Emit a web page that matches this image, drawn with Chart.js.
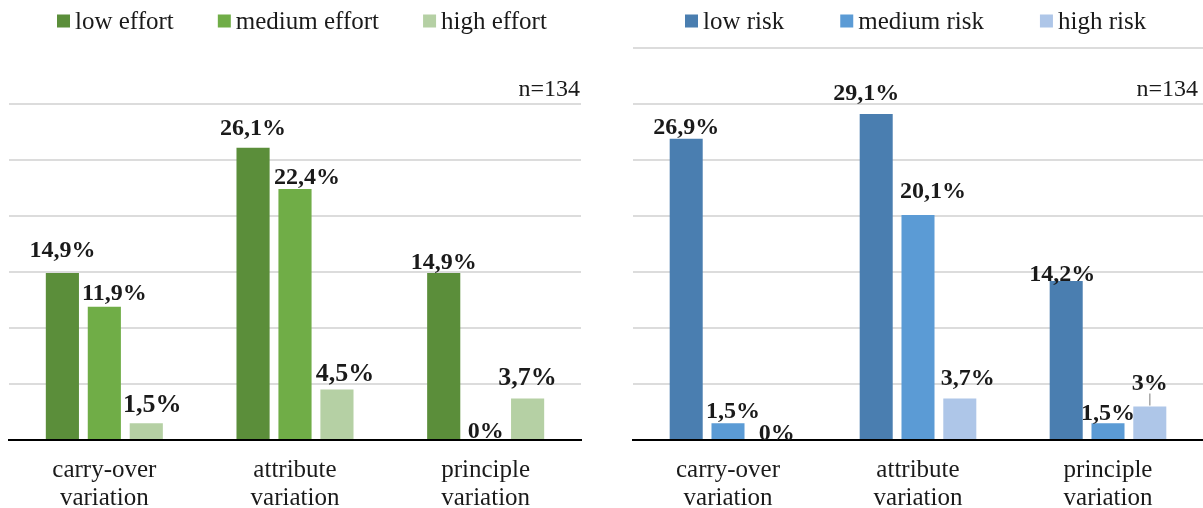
<!DOCTYPE html>
<html>
<head>
<meta charset="utf-8">
<script src="https://cdn.jsdelivr.net/npm/chart.js@4.4.1/dist/chart.umd.min.js"></script>
<style>
  html, body { margin: 0; padding: 0; background: #ffffff; }
  body { width: 1203px; height: 508px; position: relative; overflow: hidden; }
  .panel { position: absolute; top: 0; height: 508px; }
  #effortWrap { left: 0; width: 600px; }
  #riskWrap { left: 600px; width: 603px; }
</style>
</head>
<body>
<div class="panel" id="effortWrap"><canvas id="effortChart"></canvas></div>
<div class="panel" id="riskWrap"><canvas id="riskChart"></canvas></div>
<script>
// Variation types shown on both panels
const categories = [
  ['carry-over', 'variation'],
  ['attribute', 'variation'],
  ['principle', 'variation']
];

// Share of variations (%) by effort level
const effortLabels = ['low effort', 'medium effort', 'high effort'];
const effortLow = [14.9, 26.1, 14.9];
const effortMedium = [11.9, 22.4, 0];
const effortHigh = [1.5, 4.5, 3.7];

// Share of variations (%) by risk level
const riskLabels = ['low risk', 'medium risk', 'high risk'];
const riskLow = [26.9, 29.1, 14.2];
const riskMedium = [1.5, 20.1, 1.5];
const riskHigh = [0, 3.7, 3];

const sampleNote = 'n=134';

const SERIF = '"Liberation Serif", "Times New Roman", serif';
const INK = '#1a1a1a';

function formatPercent(v) {
  return (Number.isInteger(v) ? String(v) : v.toFixed(1).replace('.', ',')) + '%';
}

// Value labels above bars: [dx, gap above bar top, leader line]
const barValueLabels = {
  id: 'barValueLabels',
  afterDatasetsDraw(chart, args, opts) {
    const ctx = chart.ctx;
    chart.data.datasets.forEach((ds, di) => {
      const meta = chart.getDatasetMeta(di);
      const place = opts.placement[di];
      meta.data.forEach((bar, i) => {
        const [dx, gap, leader] = place[i];
        const x = bar.x + dx;
        const y = bar.y - gap;
        ctx.save();
        ctx.font = 'bold ' + (ds.labelSize || 24) + 'px ' + SERIF;
        ctx.fillStyle = INK;
        ctx.textAlign = 'center';
        ctx.textBaseline = 'alphabetic';
        ctx.fillText(formatPercent(ds.data[i]), x, y);
        if (leader) {
          ctx.strokeStyle = '#a6a6a6';
          ctx.lineWidth = 1.5;
          ctx.beginPath();
          ctx.moveTo(bar.x, bar.y - 1);
          ctx.lineTo(bar.x, y + 3);
          ctx.stroke();
        }
        ctx.restore();
      });
    });
  }
};

// Square-marker legend in a single row
const blockLegend = {
  id: 'blockLegend',
  afterDraw(chart, args, opts) {
    const ctx = chart.ctx;
    let x = opts.left;
    ctx.save();
    ctx.font = '25px ' + SERIF;
    ctx.textBaseline = 'middle';
    ctx.textAlign = 'left';
    chart.data.datasets.forEach(ds => {
      ctx.fillStyle = ds.backgroundColor;
      ctx.fillRect(x, opts.y - 6.5, 13, 13);
      ctx.fillStyle = INK;
      ctx.fillText(ds.label, x + 18, opts.y + 1);
      x += 18 + ctx.measureText(ds.label).width + opts.gap;
    });
    ctx.restore();
  }
};

// Sample size note at the upper right of the plot
const sampleSizeNote = {
  id: 'sampleSizeNote',
  afterDraw(chart, args, opts) {
    const ctx = chart.ctx;
    const y = chart.scales.y.getPixelForValue(30) - 8;
    ctx.save();
    ctx.font = '24px ' + SERIF;
    ctx.fillStyle = INK;
    ctx.textAlign = 'right';
    ctx.textBaseline = 'alphabetic';
    ctx.fillText(opts.text, chart.chartArea.right - opts.inset, y);
    ctx.restore();
  }
};

function buildChart(canvasId, cfg) {
  return new Chart(document.getElementById(canvasId), {
    type: 'bar',
    data: {
      labels: categories,
      datasets: cfg.series.map((s, i) => ({
        label: cfg.names[i],
        data: s,
        backgroundColor: cfg.colors[i],
        labelSize: cfg.labelSizes[i],
        categoryPercentage: 0.66,
        barPercentage: 0.79
      }))
    },
    options: {
      responsive: true,
      maintainAspectRatio: false,
      animation: false,
      events: [],
      layout: { padding: cfg.padding },
      scales: {
        x: {
          grid: { display: false },
          border: { display: true, color: '#000000', width: 2 },
          ticks: {
            color: INK,
            padding: 8,
            font: { family: SERIF, size: 25, lineHeight: 1.14 },
            maxRotation: 0
          }
        },
        y: {
          min: 0,
          max: cfg.max,
          ticks: { display: false, stepSize: 5 },
          border: { display: false },
          grid: {
            drawTicks: false,
            lineWidth: 2,
            color: c => (c.tick && c.tick.value === 0 ? 'rgba(0,0,0,0)' : '#dcdcdc')
          }
        }
      },
      plugins: {
        legend: { display: false },
        tooltip: { enabled: false },
        barValueLabels: { placement: cfg.placement },
        blockLegend: cfg.legend,
        sampleSizeNote: { text: sampleNote, inset: cfg.noteInset }
      }
    },
    plugins: [barValueLabels, blockLegend, sampleSizeNote]
  });
}

buildChart('effortChart', {
  series: [effortLow, effortMedium, effortHigh],
  names: effortLabels,
  colors: ['#5b8e3a', '#70ad47', '#b5d0a4'],
  labelSizes: [24, 24, 26],
  max: 30,
  padding: { top: 104, left: 9, right: 19, bottom: -13 },
  legend: { left: 57, y: 21, gap: 44 },
  noteInset: 1,
  placement: [
    [[0, 16], [0, 13], [0, 4]],
    [[10, 7], [12, 5], [0, 2]],
    [[6, 11], [8, 9], [0, 14]]
  ]
});

buildChart('riskChart', {
  series: [riskLow, riskMedium, riskHigh],
  names: riskLabels,
  colors: ['#4a7eb0', '#5b9bd5', '#aec6e8'],
  labelSizes: [24, 24, 24],
  max: 35,
  padding: { top: 48, left: 33, right: 0, bottom: -13 },
  legend: { left: 85, y: 21, gap: 56 },
  noteInset: 5,
  placement: [
    [[0, 5], [-10, 14], [-4, 0]],
    [[5, 5], [15, 17], [0, 3]],
    [[7, 0], [8, 14], [0, 16, true]]
  ]
});
</script>
</body>
</html>
